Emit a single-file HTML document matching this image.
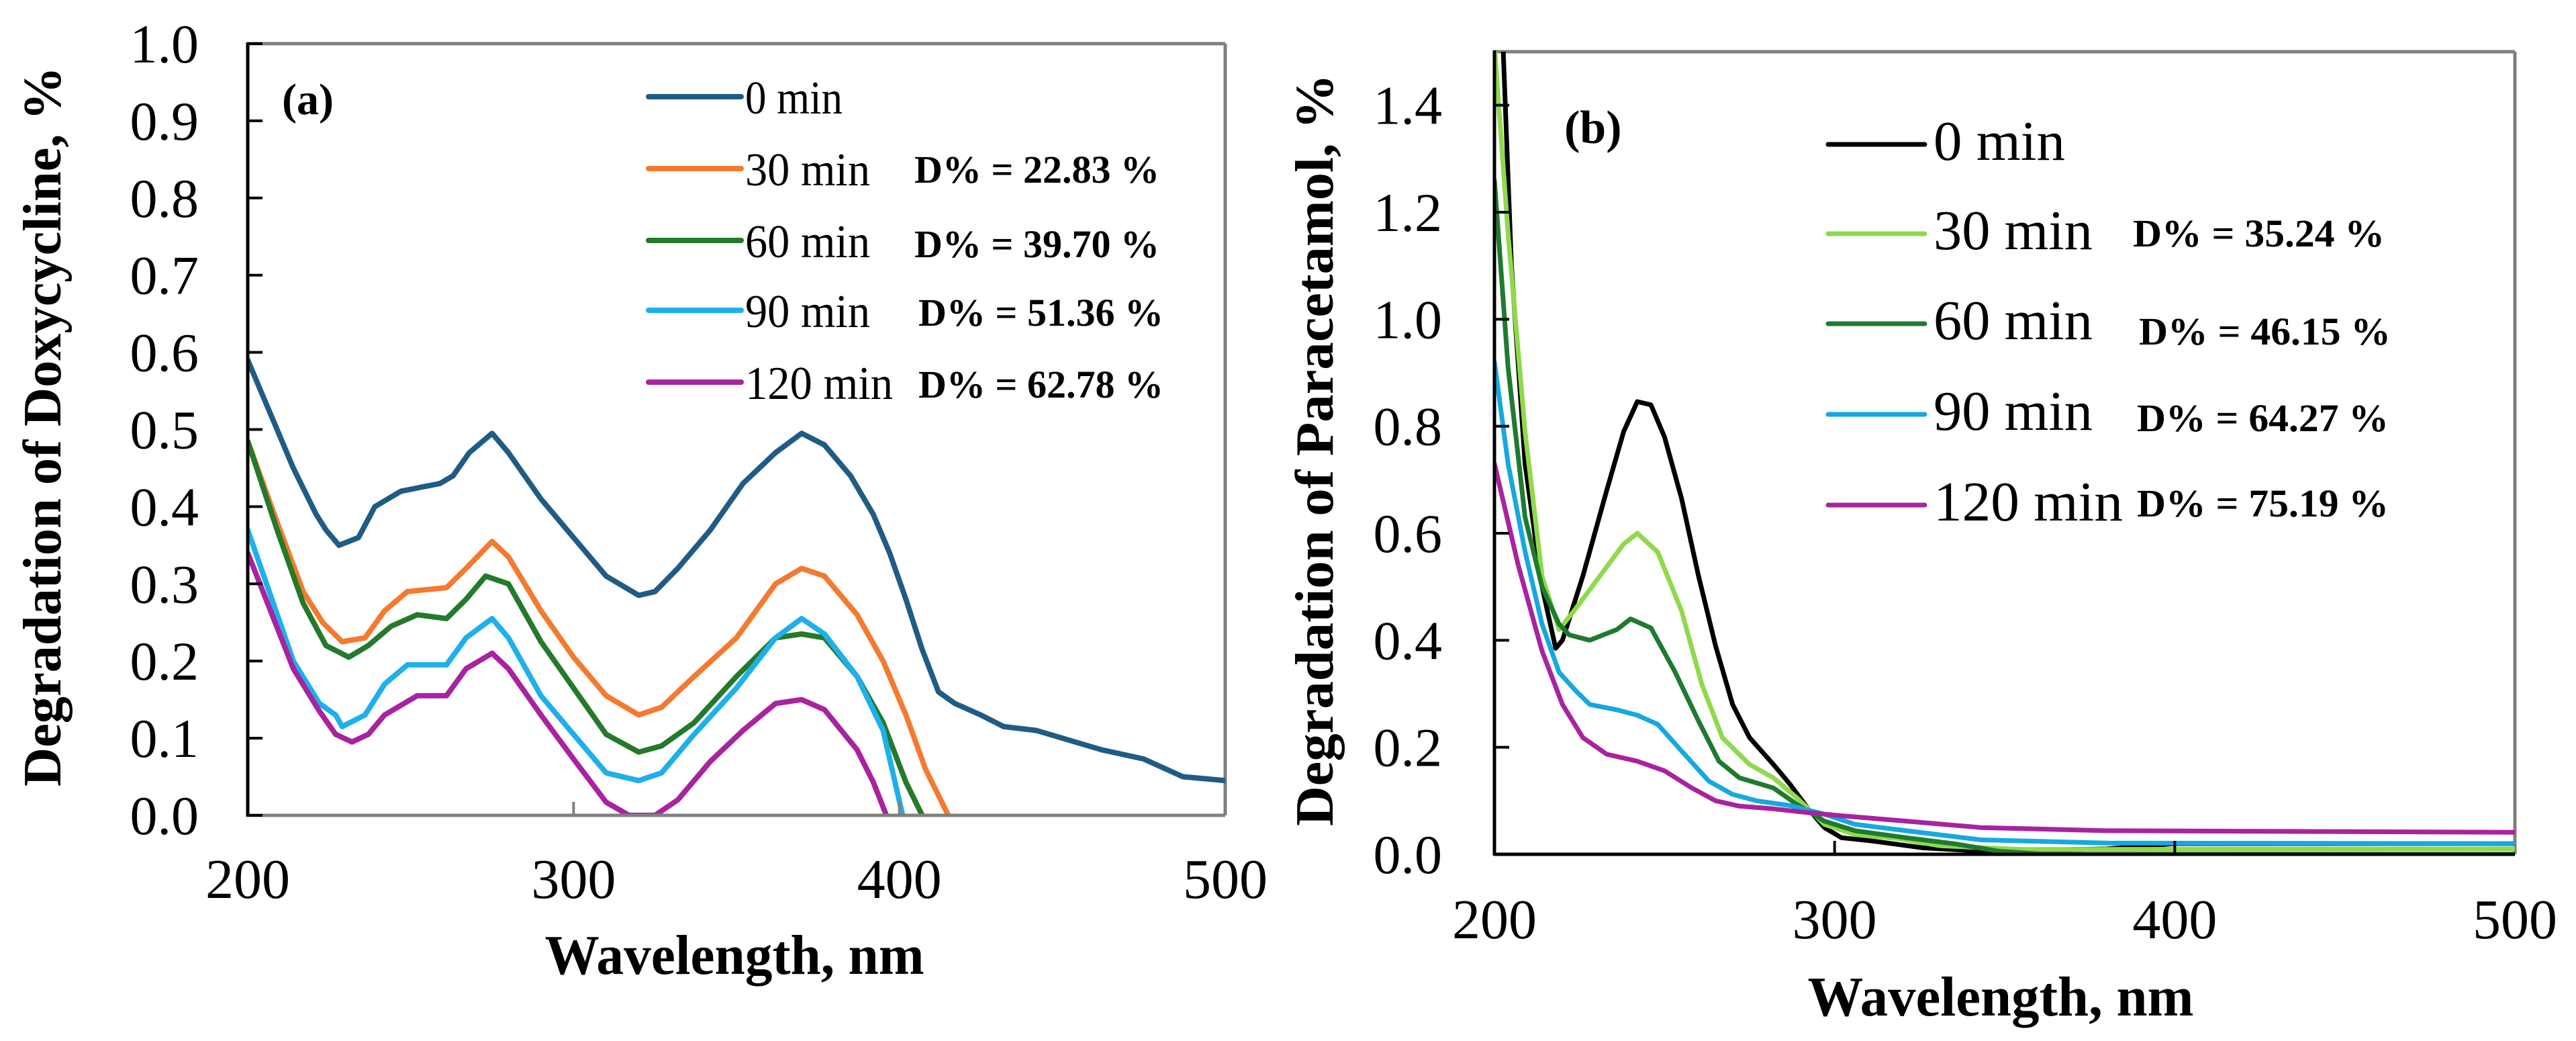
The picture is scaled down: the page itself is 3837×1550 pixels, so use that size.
<!DOCTYPE html>
<html><head><meta charset="utf-8"><style>
html,body{margin:0;padding:0;background:#fff;}
svg{display:block;font-family:"Liberation Serif","Times New Roman",serif;}
svg text{font-family:"Liberation Serif","Times New Roman",serif;}
</style></head><body>
<svg id="fig" width="3837" height="1550" viewBox="0 0 3837 1550" font-family="Liberation Serif, serif">
<defs>
<clipPath id="clipA"><rect x="369" y="65" width="1456" height="1149"/></clipPath>
<clipPath id="clipB"><rect x="2226" y="77" width="1520" height="1195"/></clipPath>
</defs>
<g id="panelA"></g>
<g id="panelB"></g>
</svg>
<script>
// ---------- Panel A data ----------
const aSeriesNames = ["0 min","30 min","60 min","90 min","120 min"];
const aDegradation = ["", "D% = 22.83 %", "D% = 39.70 %", "D% = 51.36 %", "D% = 62.78 %"];
const aColors = ["#1f5c85","#f47a2f","#237a2a","#1eb0ea","#a8239f"];
const aYTicks = ["0.0","0.1","0.2","0.3","0.4","0.5","0.6","0.7","0.8","0.9","1.0"];
const aXTicks = ["200","300","400","500"];
const a0wl = [200,207,214,221,224,228,234,239,247,259,263,268,275,280,290,300,310,320,325,332,342,352,362,370,377,385,392,397,402,407,412,417,425,432,442,450,462,475,487,495,500];
const a0v = [0.59,0.52,0.45,0.39,0.37,0.35,0.36,0.40,0.42,0.43,0.44,0.47,0.495,0.47,0.41,0.36,0.31,0.285,0.29,0.32,0.37,0.43,0.47,0.495,0.48,0.44,0.39,0.34,0.28,0.215,0.16,0.145,0.13,0.115,0.11,0.10,0.085,0.073,0.05,0.047,0.045];
const a30wl = [200,209,217,223,229,236,242,249,261,267,275,280,290,300,310,320,327,337,350,362,370,377,387,395,402,408,415];
const a30v = [0.485,0.38,0.29,0.25,0.225,0.23,0.265,0.29,0.295,0.32,0.355,0.335,0.265,0.205,0.155,0.13,0.14,0.18,0.23,0.30,0.32,0.31,0.26,0.20,0.13,0.06,0.0];
const a60wl = [200,209,217,224,231,237,244,252,261,267,273,280,290,300,310,320,327,337,350,362,370,377,387,395,402,407];
const a60v = [0.485,0.37,0.275,0.22,0.205,0.22,0.245,0.26,0.255,0.28,0.31,0.30,0.225,0.165,0.105,0.082,0.09,0.12,0.18,0.23,0.235,0.23,0.18,0.12,0.043,0.0];
const a90wl = [200,207,214,222,227,229,236,242,249,261,267,275,280,290,300,310,320,327,337,350,362,370,377,387,395,401];
const a90v = [0.37,0.285,0.20,0.145,0.13,0.115,0.13,0.17,0.195,0.195,0.23,0.255,0.23,0.155,0.105,0.055,0.045,0.055,0.105,0.165,0.23,0.255,0.235,0.18,0.11,0.0];
const a120wl = [200,207,214,222,227,232,237,242,252,261,267,275,280,290,300,310,317,325,332,342,352,362,370,377,387,392,396];
const a120v = [0.34,0.265,0.19,0.135,0.105,0.095,0.105,0.13,0.155,0.155,0.19,0.21,0.19,0.13,0.073,0.017,0.0,0.0,0.02,0.07,0.11,0.145,0.15,0.137,0.085,0.043,0.0];
const aWl = [a0wl,a30wl,a60wl,a90wl,a120wl];
const aVals = [a0v,a30v,a60v,a90v,a120v];

// ---------- Panel B data ----------
const bSeriesNames = ["0 min","30 min","60 min","90 min","120 min"];
const bDegradation = ["", "D% = 35.24 %", "D% = 46.15 %", "D% = 64.27 %", "D% = 75.19 %"];
const bColors = ["#000000","#8fd94a","#1e7b2e","#16a8e0","#a8239f"];
const bYTicks = ["0.0","0.2","0.4","0.6","0.8","1.0","1.2","1.4"];
const bXTicks = ["200","300","400","500"];
const b0wl = [202,205,209,214,218,220,226,233,238,242,246,250,255,260,265,270,275,282,287,292,297,302,311,326,343,380,400,500];
const b0v = [1.6,1.1,0.73,0.5,0.385,0.40,0.52,0.68,0.79,0.846,0.84,0.78,0.665,0.52,0.39,0.28,0.218,0.168,0.13,0.087,0.05,0.031,0.025,0.012,0.006,0.01,0.02,0.02];
const b30wl = [200,204,209,214,219,224,231,238,242,248,255,261,267,275,282,289,297,306,319,331,355,500];
const b30v = [1.51,1.16,0.79,0.52,0.42,0.46,0.52,0.58,0.60,0.565,0.455,0.317,0.218,0.168,0.143,0.105,0.056,0.037,0.029,0.016,0.009,0.01];
const b60wl = [200,204,209,214,219,222,228,236,240,246,253,260,266,272,282,289,297,306,321,336,348,362,500];
const b60v = [1.26,0.91,0.63,0.5,0.43,0.41,0.40,0.42,0.44,0.423,0.342,0.249,0.174,0.143,0.124,0.093,0.062,0.044,0.031,0.019,0.006,0.0,0.0];
const b90wl = [200,204,209,214,219,224,228,236,242,248,255,263,270,277,287,297,306,321,343,380,500];
const b90v = [0.92,0.73,0.566,0.43,0.34,0.305,0.28,0.27,0.26,0.243,0.193,0.137,0.112,0.10,0.091,0.075,0.056,0.044,0.027,0.021,0.02];
const b120wl = [200,207,214,220,226,233,242,250,258,265,272,282,292,302,321,343,380,500];
const b120v = [0.73,0.54,0.38,0.28,0.218,0.187,0.174,0.156,0.124,0.10,0.09,0.085,0.078,0.072,0.062,0.05,0.044,0.041];
const bWl = [b0wl,b30wl,b60wl,b90wl,b120wl];
const bVals = [b0v,b30v,b60v,b90v,b120v];

const NS = "http://www.w3.org/2000/svg";
const FF = "Liberation Serif, Times New Roman, serif";
function mk(parent, tag, attrs, text){
  const e = document.createElementNS(NS, tag);
  for (const k in attrs) e.setAttribute(k, attrs[k]);
  if (tag === 'text') e.setAttribute('font-family', FF);
  if (text !== undefined) e.textContent = text;
  parent.appendChild(e);
  return e;
}

function drawPanel(cfg){
  const g = document.getElementById(cfg.id);
  const xs = wl => cfg.x0 + (wl - cfg.xmin) / (cfg.xmax - cfg.xmin) * (cfg.x1 - cfg.x0);
  const ys = v => cfg.y0 - (v - cfg.ymin) / (cfg.ymax - cfg.ymin) * (cfg.y0 - cfg.y1);

  let e;
  e = mk(g,'line',{x1:cfg.x0,y1:cfg.y1,x2:cfg.x1,y2:cfg.y1,stroke:'#7f7f7f','stroke-width':5});
   
  e = mk(g,'line',{x1:cfg.x1,y1:cfg.y1,x2:cfg.x1,y2:cfg.y0,stroke:'#7f7f7f','stroke-width':5});
   

  for (let s = 0; s < cfg.wl.length; s++){
    let d = '';
    cfg.wl[s].forEach((w,i)=>{ d += (i?'L':'M') + xs(w).toFixed(1) + ',' + ys(cfg.vals[s][i]).toFixed(1); });
    const p = mk(g,'path',{d:d,fill:'none',stroke:cfg.colors[s],'stroke-width':cfg.sw,'stroke-linejoin':'round','stroke-linecap':'round','clip-path':'url(#'+cfg.clip+')'});
    
    
  }

  e = mk(g,'line',{x1:cfg.x0,y1:cfg.y0,x2:cfg.x1,y2:cfg.y0,stroke:cfg.bottomColor,'stroke-width':5});
   
  e = mk(g,'line',{x1:cfg.x0,y1:cfg.y1-2,x2:cfg.x0,y2:cfg.y0+2,stroke:'#000','stroke-width':5});
   

  cfg.yTicks.forEach(t=>{
    const v = parseFloat(t), y = ys(v);
    const tk = mk(g,'line',{x1:cfg.x0,y1:y,x2:cfg.x0+22,y2:y,stroke:'#000','stroke-width':4});
     
    const lb = mk(g,'text',{x:cfg.yLabelX,y:y+28,'text-anchor':'end','font-size':82,fill:'#000'},t);
     
  });
  cfg.xTicks.forEach(t=>{
    const v = parseFloat(t), x = xs(v);
    if (v > cfg.xmin && v < cfg.xmax){
      const tk = mk(g,'line',{x1:x,y1:cfg.y0,x2:x,y2:cfg.y0-20,stroke:cfg.bottomColor,'stroke-width':4});
       
    }
    const lb = mk(g,'text',{x:x,y:cfg.xLabelY,'text-anchor':'middle','font-size':84,fill:'#000'},t);
     
  });

  e = mk(g,'text',{x:cfg.xTitleX,y:cfg.xTitleY,'text-anchor':'middle','font-size':84,'font-weight':'bold',textLength:cfg.xTitleLen,lengthAdjust:'spacingAndGlyphs'},'Wavelength, nm');
   
  e = mk(g,'text',{x:0,y:0,'text-anchor':'middle','font-size':80,'font-weight':'bold',textLength:cfg.yTitleLen,lengthAdjust:'spacingAndGlyphs',transform:'translate('+cfg.yTitleX+','+cfg.yTitleY+') rotate(-90)'},cfg.yTitle);
   

  e = mk(g,'text',{x:cfg.tagX,y:cfg.tagY,'font-size':cfg.tagSize,'font-weight':'bold'},cfg.tag);
   

  for (let s = 0; s < cfg.names.length; s++){
    const ly = cfg.legY[s];
    const lg = mk(g,'g',{});
    
    
    mk(lg,'line',{x1:cfg.legX0,y1:ly,x2:cfg.legX1,y2:ly,stroke:cfg.colors[s],'stroke-width':cfg.sw,'stroke-linecap':'round'});
    mk(lg,'text',{x:cfg.legTextX,y:ly+cfg.legBase,'font-size':cfg.legSize,textLength:cfg.legLen[s],lengthAdjust:'spacingAndGlyphs'},cfg.names[s]);
    if (cfg.deg[s]){
      mk(lg,'text',{x:cfg.degX[s],y:cfg.degY[s],'font-size':58,'font-weight':'bold',textLength:cfg.degLen,lengthAdjust:'spacingAndGlyphs'},cfg.deg[s]);
    }
  }
}

drawPanel({id:'panelA',clip:'clipA',x0:369,x1:1825,y0:1214,y1:65,xmin:200,xmax:500,ymin:0,ymax:1.0,
  wl:aWl,vals:aVals,colors:aColors,names:aSeriesNames,deg:aDegradation,sw:8,bottomColor:'#808080',
  yTicks:aYTicks,xTicks:aXTicks,yLabelX:296,xLabelY:1337,
  xTitleX:1094,xTitleY:1450,xTitleLen:565,yTitle:'Degradation of Doxycycline, %',yTitleX:90,yTitleY:635,yTitleLen:1072,
  tag:'(a)',tagX:420,tagY:170,tagSize:66,
  legY:[144,251,358,462,569],legX0:966,legX1:1104,legTextX:1110,legBase:25,legSize:70,legLen:[145,186,186,186,220],
  degX:[0,1362,1362,1368,1368],degY:[0,272,383,485,592],degLen:365});

drawPanel({id:'panelB',clip:'clipB',x0:2226,x1:3746,y0:1272,y1:77,xmin:200,xmax:500,ymin:0,ymax:1.5,
  wl:bWl,vals:bVals,colors:bColors,names:bSeriesNames,deg:bDegradation,sw:7,bottomColor:'#000',
  yTicks:bYTicks,xTicks:bXTicks,yLabelX:2148,xLabelY:1397,
  xTitleX:2980,xTitleY:1512,xTitleLen:575,yTitle:'Degradation of Paracetamol, %',yTitleX:1985,yTitleY:670,yTitleLen:1120,
  tag:'(b)',tagX:2330,tagY:213,tagSize:70,
  legY:[215,348,482,617,752],legX0:2723,legX1:2867,legTextX:2880,legBase:23,legSize:84,legLen:[196,237,237,237,282],
  degX:[0,3177,3186,3183,3183],degY:[0,367,513,642,769],degLen:375});
</script>
</body></html>
